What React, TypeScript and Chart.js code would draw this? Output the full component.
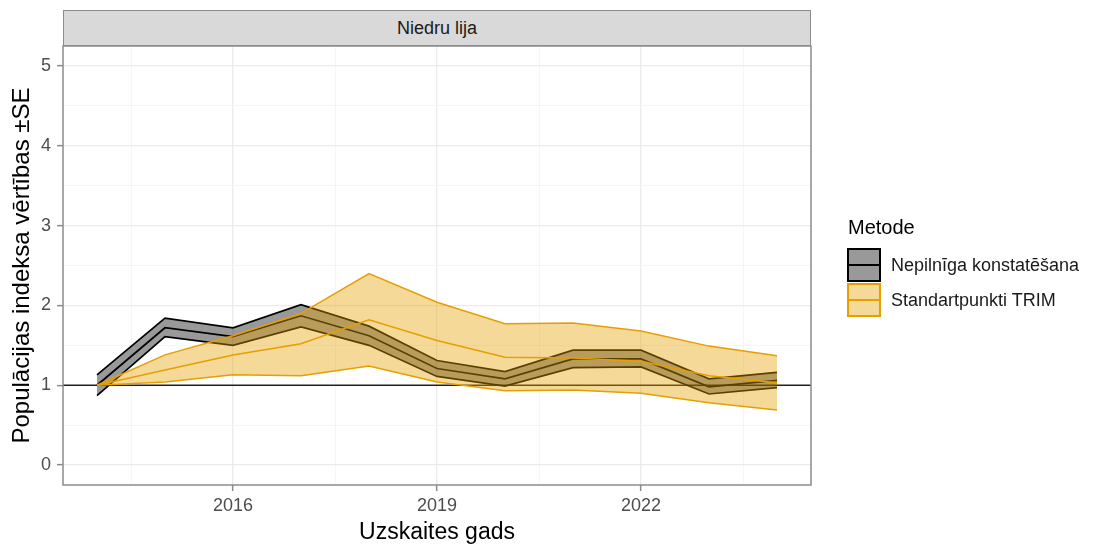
import React, { useEffect, useRef } from "react";
import { Chart, registerables } from "chart.js";

Chart.register(...registerables);

// Survey years
const years = [2014, 2015, 2016, 2017, 2018, 2019, 2020, 2021, 2022, 2023, 2024];

// "Nepilnīga konstatēšana" index with ±SE band
const nepMean = [1.0, 1.72, 1.61, 1.87, 1.62, 1.21, 1.08, 1.33, 1.33, 0.98, 1.06];
const nepUpper = [1.13, 1.84, 1.72, 2.01, 1.74, 1.31, 1.17, 1.44, 1.44, 1.08, 1.16];
const nepLower = [0.87, 1.61, 1.5, 1.73, 1.5, 1.11, 0.99, 1.22, 1.23, 0.89, 0.97];

// "Standartpunkti TRIM" index with ±SE band
const trimMean = [1.0, 1.19, 1.38, 1.52, 1.82, 1.56, 1.35, 1.34, 1.3, 1.12, 1.03];
const trimUpper = [1.0, 1.38, 1.62, 1.9, 2.4, 2.04, 1.77, 1.78, 1.68, 1.49, 1.37];
const trimLower = [1.0, 1.04, 1.13, 1.12, 1.24, 1.04, 0.93, 0.94, 0.9, 0.78, 0.69];

// Axis ticks (major with labels, minor between)
const xTicks = [2014.5, 2016, 2017.5, 2019, 2020.5, 2022, 2023.5];
const xMajor = [2016, 2019, 2022];
const yTicks = [0, 0.5, 1, 1.5, 2, 2.5, 3, 3.5, 4, 4.5, 5];
const yMajor = [0, 1, 2, 3, 4, 5];

const baseline = 1;

const FONT = "'Liberation Sans', Arial, Helvetica, sans-serif";
const BLACK = "#000000";
const BLACK_FILL = "rgba(0,0,0,0.4)";
const ORANGE = "#E69F00";
const ORANGE_FILL = "rgba(230,159,0,0.4)";
const PANEL_BORDER = "#8c8c8c";

const pts = (vals: number[]) => vals.map((y, i) => ({ x: years[i], y }));

const panelBorder = {
  id: "panelBorder",
  afterDatasetsDraw(chart: any) {
    const { ctx, chartArea } = chart;
    ctx.save();
    ctx.strokeStyle = PANEL_BORDER;
    ctx.lineWidth = 1.5;
    ctx.strokeRect(chartArea.left, chartArea.top, chartArea.right - chartArea.left, chartArea.bottom - chartArea.top);
    ctx.restore();
  },
};

export default function App() {
  const canvasRef = useRef<HTMLCanvasElement | null>(null);

  useEffect(() => {
    const canvas = canvasRef.current;
    if (!canvas) return;
    const line = { pointRadius: 0, tension: 0, fill: false };
    const chart = new Chart(canvas, {
      type: "line",
      data: {
        datasets: [
          {
            label: "baseline",
            data: [
              { x: 2013.5, y: baseline },
              { x: 2024.5, y: baseline },
            ],
            borderColor: "#222222",
            borderWidth: 1.5,
            order: 10,
            ...line,
          },
          {
            label: "nepLower",
            data: pts(nepLower),
            borderColor: BLACK,
            borderWidth: 1.7,
            ...line,
            fill: "+1",
            backgroundColor: BLACK_FILL,
            order: 9,
          },
          { label: "nepUpper", data: pts(nepUpper), borderColor: BLACK, borderWidth: 1.7, order: 8, ...line },
          { label: "nepMean", data: pts(nepMean), borderColor: BLACK, borderWidth: 1.7, order: 7, ...line },
          {
            label: "trimLower",
            data: pts(trimLower),
            borderColor: ORANGE,
            borderWidth: 1.5,
            ...line,
            fill: "+1",
            backgroundColor: ORANGE_FILL,
            order: 6,
          },
          { label: "trimUpper", data: pts(trimUpper), borderColor: ORANGE, borderWidth: 1.5, order: 5, ...line },
          { label: "trimMean", data: pts(trimMean), borderColor: ORANGE, borderWidth: 1.5, order: 4, ...line },
        ],
      },
      options: {
        responsive: false,
        animation: false,
        devicePixelRatio: 1,
        layout: { padding: { top: 46, right: 283, bottom: 0, left: 0 } },
        plugins: {
          legend: { display: false },
          tooltip: { enabled: false },
        },
        scales: {
          x: {
            type: "linear",
            min: 2013.5,
            max: 2024.5,
            afterBuildTicks: (scale: any) => {
              scale.ticks = xTicks.map((v) => ({ value: v }));
            },
            afterFit: (scale: any) => {
              scale.height = 61;
            },
            border: { display: false },
            grid: {
              color: (c: any) => (xMajor.includes(c.tick?.value) ? "#ebebeb" : "#f3f3f3"),
              lineWidth: (c: any) => (xMajor.includes(c.tick?.value) ? 1.3 : 0.8),
              tickColor: (c: any) => (xMajor.includes(c.tick?.value) ? PANEL_BORDER : "rgba(0,0,0,0)"),
              tickLength: 6,
              tickWidth: 1.5,
            },
            ticks: {
              autoSkip: false,
              maxRotation: 0,
              padding: 4,
              color: "#4d4d4d",
              font: { family: FONT, size: 18 },
              callback: (v: any) => (xMajor.includes(Number(v)) ? String(v) : ""),
            },
            title: {
              display: true,
              text: "Uzskaites gads",
              color: "#000000",
              font: { family: FONT, size: 23 },
              padding: { top: 5, bottom: 0 },
            },
          },
          y: {
            type: "linear",
            min: -0.25,
            max: 5.25,
            afterBuildTicks: (scale: any) => {
              scale.ticks = yTicks.map((v) => ({ value: v }));
            },
            afterFit: (scale: any) => {
              scale.width = 63;
            },
            border: { display: false },
            grid: {
              color: (c: any) => (yMajor.includes(c.tick?.value) ? "#ebebeb" : "#f3f3f3"),
              lineWidth: (c: any) => (yMajor.includes(c.tick?.value) ? 1.3 : 0.8),
              tickColor: (c: any) => (yMajor.includes(c.tick?.value) ? PANEL_BORDER : "rgba(0,0,0,0)"),
              tickLength: 6,
              tickWidth: 1.5,
            },
            ticks: {
              autoSkip: false,
              padding: 6,
              color: "#4d4d4d",
              font: { family: FONT, size: 18 },
              callback: (v: any) => (yMajor.includes(Number(v)) ? String(v) : ""),
            },
            title: {
              display: true,
              text: "Populācijas indeksa vērtības ±SE",
              color: "#000000",
              font: { family: FONT, size: 24 },
              padding: { top: 8, bottom: 0 },
            },
          },
        },
      },
      plugins: [panelBorder],
    } as any);
    return () => chart.destroy();
  }, []);

  const keyBox = (border: string, fill: string, top: number) => (
    <div
      style={{
        position: "absolute",
        left: 847,
        top,
        width: 34,
        height: 34,
        boxSizing: "border-box",
        border: `2px solid ${border}`,
        background: fill,
      }}
    >
      <div style={{ position: "absolute", left: 0, right: 0, top: 14, height: 2, background: border }} />
    </div>
  );

  const legendText = (text: string, centerY: number) => (
    <div
      style={{
        position: "absolute",
        left: 891,
        top: centerY - 11,
        height: 22,
        lineHeight: "22px",
        fontSize: 18,
        color: "#1a1a1a",
        whiteSpace: "nowrap",
      }}
    >
      {text}
    </div>
  );

  return (
    <div
      style={{
        position: "absolute",
        left: 0,
        top: 0,
        width: 1094,
        height: 546,
        background: "#ffffff",
        fontFamily: FONT,
        overflow: "hidden",
      }}
    >
      <canvas ref={canvasRef} width={1094} height={546} style={{ position: "absolute", left: 0, top: 0 }} />
      <div
        style={{
          position: "absolute",
          left: 63,
          top: 10,
          width: 748,
          height: 36,
          boxSizing: "border-box",
          background: "#d9d9d9",
          border: `1.5px solid ${PANEL_BORDER}`,
          display: "flex",
          alignItems: "center",
          justifyContent: "center",
          fontSize: 18,
          color: "#1a1a1a",
        }}
      >
        Niedru lija
      </div>
      <div
        style={{
          position: "absolute",
          left: 848,
          top: 214,
          height: 26,
          lineHeight: "26px",
          fontSize: 20,
          color: "#000000",
        }}
      >
        Metode
      </div>
      {keyBox(BLACK, "rgba(0,0,0,0.4)", 248)}
      {keyBox(ORANGE, "rgba(230,159,0,0.4)", 283)}
      {legendText("Nepilnīga konstatēšana", 265)}
      {legendText("Standartpunkti TRIM", 300)}
    </div>
  );
}
